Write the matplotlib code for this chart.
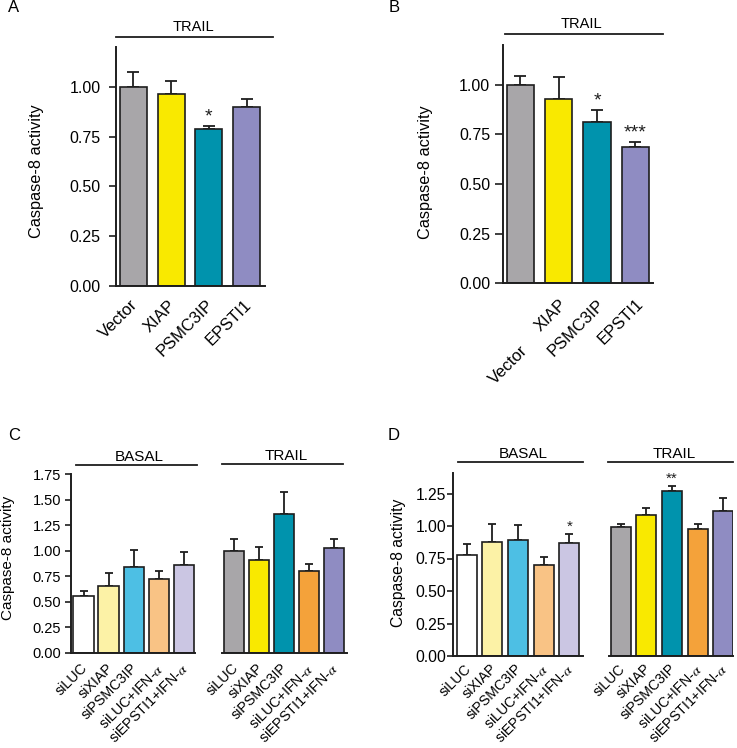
import matplotlib
matplotlib.use('Agg')
import matplotlib.pyplot as plt
import numpy as np
from matplotlib.lines import Line2D
from matplotlib.transforms import ScaledTranslation

plt.rcParams['font.family'] = ['Liberation Sans', 'DejaVu Sans']
plt.rcParams['mathtext.fontset'] = 'stix'

# ---------------- data ----------------
ab_labels = ['Vector', 'XIAP', 'PSMC3IP', 'EPSTI1']
ab_colors = ['#a8a6a9', '#f9e900', '#0093ad', '#8f8cc2']
a_values = [1.00, 0.966, 0.787, 0.899]
a_err = [0.073, 0.061, 0.017, 0.039]
a_stars = ['', '', '*', '']
b_values = [1.00, 0.928, 0.812, 0.686]
b_err = [0.042, 0.109, 0.062, 0.026]
b_stars = ['', '', '*', '***']

cd_labels = ['siLUC', 'siXIAP', 'siPSMC3IP', r'siLUC+IFN-$\alpha$', r'siEPSTI1+IFN-$\alpha$']
basal_colors = ['#ffffff', '#fcf2a6', '#4dbfe4', '#f9c385', '#cbc6e3']
trail_colors = ['#a8a6a9', '#f9e900', '#0093ad', '#f4a23a', '#8f8cc2']
c_basal = [0.552, 0.656, 0.842, 0.722, 0.862]
c_basal_err = [0.049, 0.121, 0.167, 0.078, 0.124]
c_trail = [1.00, 0.904, 1.358, 0.803, 1.028]
c_trail_err = [0.117, 0.134, 0.212, 0.069, 0.082]
d_basal = [0.776, 0.879, 0.894, 0.697, 0.873]
d_basal_err = [0.082, 0.135, 0.113, 0.061, 0.064]
d_basal_stars = ['', '', '', '', '*']
d_trail = [0.994, 1.083, 1.273, 0.976, 1.117]
d_trail_err = [0.018, 0.057, 0.033, 0.043, 0.097]
d_trail_stars = ['', '', '**', '', '']

ab_yticks = [0.0, 0.25, 0.5, 0.75, 1.0]
c_yticks = [0.0, 0.25, 0.5, 0.75, 1.0, 1.25, 1.5, 1.75]
d_yticks = [0.0, 0.25, 0.5, 0.75, 1.0, 1.25]

YLABEL = 'Caspase-8 activity'
DARK = '#1e1e1e'

# ---------------- figure ----------------
W, H = 737, 748
fig = plt.figure(figsize=(W / 100, H / 100), dpi=100)


def rect(x0, x1, ytop, ybot):
    return [x0 / W, 1 - ybot / H, (x1 - x0) / W, (ybot - ytop) / H]


def make_ax(r, xlim, ylim, yticks, left=True, tick_fs=11, pad=2, tlen=4.5):
    ax = fig.add_axes(r)
    ax.set_xlim(*xlim)
    ax.set_ylim(*ylim)
    for s in ['top', 'right']:
        ax.spines[s].set_visible(False)
    for s in ['bottom', 'left']:
        ax.spines[s].set_linewidth(1.4)
        ax.spines[s].set_color(DARK)
    ax.tick_params(axis='x', length=0, pad=3)
    if left:
        ax.set_yticks(yticks)
        ax.set_yticklabels([f'{v:.2f}' for v in yticks])
        ax.tick_params(axis='y', length=tlen, width=1.2, direction='out',
                       labelsize=tick_fs, color=DARK, pad=pad)
    else:
        ax.spines['left'].set_visible(False)
        ax.tick_params(axis='y', left=False, labelleft=False)
    return ax


def draw_bars(ax, labels, vals, errs, colors, width, capsize, xfs, stars=None, star_fs=12):
    x = np.arange(len(vals))
    ax.bar(x, vals, width=width, color=colors, edgecolor=DARK, linewidth=1.2, zorder=2)
    ax.errorbar(x, vals, yerr=[np.zeros(len(vals)), errs], fmt='none', ecolor=DARK,
                elinewidth=1.3, capsize=capsize, capthick=1.3, zorder=1)
    ax.set_xticks(x)
    ax.set_xticklabels(labels, rotation=45, ha='right', va='top',
                       rotation_mode='anchor', fontsize=xfs)
    if stars:
        for xi, v, e, s in zip(x, vals, errs, stars):
            if s:
                ax.annotate(s, (xi, v + e), xytext=(0, 0), textcoords='offset points',
                            ha='center', va='bottom', fontsize=star_fs, color=DARK)


def group(x0, x1, y, xt, yt, text, fs=11):
    fig.add_artist(Line2D([x0 / W, x1 / W], [1 - y / H, 1 - y / H],
                          transform=fig.transFigure, color=DARK, lw=1.3))
    fig.text(xt / W, 1 - yt / H, text, ha='center', va='center', fontsize=fs)


def ylabel(ax, x, y, fs):
    ax.set_ylabel(YLABEL, fontsize=fs)
    ax.yaxis.label.set_verticalalignment('center')
    ax.yaxis.set_label_coords(x / W, 1 - y / H, transform=fig.transFigure)


def shift_labels(ax, dx_px, dy_px, idx=None):
    lbls = ax.get_xticklabels()
    for i, lbl in enumerate(lbls):
        if idx is None or i == idx:
            lbl.set_transform(lbl.get_transform() +
                              ScaledTranslation(dx_px / 100, -dy_px / 100, fig.dpi_scale_trans))


# ---- Panel A ----
axA = make_ax(rect(116, 265, 47, 286), (-0.464, 3.49), (0, 1.2), ab_yticks,
              tick_fs=11.5, pad=6, tlen=5)
draw_bars(axA, ab_labels, a_values, a_err, ab_colors, 0.72, 4.3, 12, a_stars, 14)
ylabel(axA, 36.7, 171.5, 11.7)
group(116, 273, 36.7, 193, 26.7, 'TRAIL', 10.5)
shift_labels(axA, -3, 7)

# ---- Panel B ----
axB = make_ax(rect(502.7, 653, 45, 283.3), (-0.458, 3.456), (0, 1.2), ab_yticks,
              tick_fs=11.5, pad=3, tlen=6)
draw_bars(axB, ab_labels, b_values, b_err, ab_colors, 0.71, 4.3, 12, b_stars, 14)
ylabel(axB, 425, 171.7, 11.7)
group(505, 662.7, 34.3, 581.7, 24, 'TRAIL', 10.5)
shift_labels(axB, 0, 9)
shift_labels(axB, 0, 46, idx=0)

# ---- Panel C ----
axC1 = make_ax(rect(71, 195, 474, 652.7), (-0.5, 4.44), (0, 1.75), c_yticks,
               tick_fs=10.5, pad=2.7, tlen=4.5)
draw_bars(axC1, cd_labels, c_basal, c_basal_err, basal_colors, 0.81, 2.6, 10.3)
axC2 = make_ax(rect(221.7, 346.7, 474, 652.7), (-0.48, 4.52), (0, 1.75), c_yticks, left=False)
draw_bars(axC2, cd_labels, c_trail, c_trail_err, trail_colors, 0.81, 2.6, 10.3)
shift_labels(axC1, -3, 4)
shift_labels(axC2, -3, 4)
ylabel(axC1, 8.5, 557.5, 11)
group(76, 196.7, 465, 139.3, 456.7, 'BASAL', 11)
group(222.3, 342.7, 464.3, 286, 456, 'TRAIL', 11)

# ---- Panel D ----
axD1 = make_ax(rect(453.3, 582.7, 472.7, 656), (-0.52, 4.52), (0, 1.41), d_yticks,
               tick_fs=11.3, pad=0.5, tlen=4.5)
draw_bars(axD1, cd_labels, d_basal, d_basal_err, basal_colors, 0.78, 2.6, 10.2, d_basal_stars, 11)
axD2 = make_ax(rect(609.3, 733.3, 472.7, 656), (-0.44, 4.39), (0, 1.41), d_yticks, left=False)
draw_bars(axD2, cd_labels, d_trail, d_trail_err, trail_colors, 0.78, 2.6, 10.2, d_trail_stars, 11)
shift_labels(axD1, -3, 1.5)
shift_labels(axD2, -3, 1.5)
ylabel(axD1, 398.3, 562.5, 11.3)
group(458.3, 582.7, 462.3, 523.3, 454, 'BASAL', 11)
group(608.3, 732.7, 462, 674, 453.7, 'TRAIL', 11)

# ---- panel letters ----
for lt, x, y in [('A', 14, 8), ('B', 394, 7), ('C', 14, 436), ('D', 394, 436)]:
    fig.text(x / W, 1 - y / H, lt, ha='center', va='center', fontsize=12)

fig.savefig('out.png', dpi=100)
